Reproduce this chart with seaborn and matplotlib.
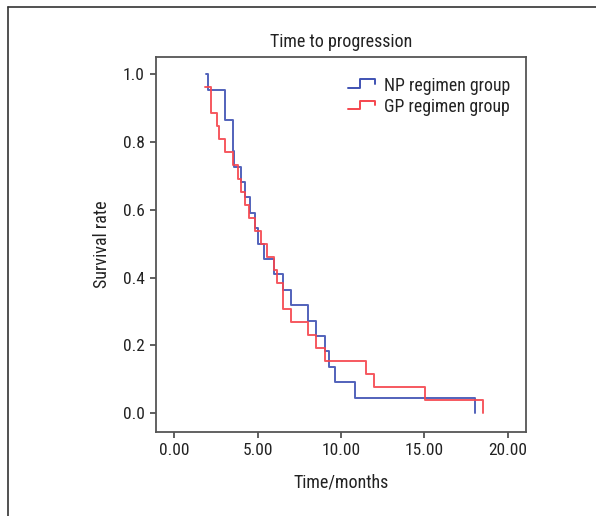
import matplotlib
matplotlib.use("Agg")
import matplotlib.pyplot as plt
import seaborn as sns
import pandas as pd
from matplotlib.lines import Line2D
from matplotlib.legend_handler import HandlerLine2D
from matplotlib import font_manager

groups = ["NP regimen group", "GP regimen group"]
np_times = [1.92, 2.05, 3.03, 3.53, 3.60, 4.01, 4.25, 4.55, 4.87, 5.05, 5.41, 5.99,
            6.51, 7.00, 8.02, 8.50, 9.02, 9.30, 9.62, 10.84, 18.00]
np_surv = [1.0, 0.9545, 0.8636, 0.7727, 0.7273, 0.6818, 0.6364, 0.5909, 0.5455, 0.5,
           0.4545, 0.4091, 0.3636, 0.3182, 0.2727, 0.2273, 0.1818, 0.1364, 0.0909,
           0.0455, 0.0]
gp_times = [1.85, 2.19, 2.55, 2.71, 3.03, 3.53, 3.81, 3.99, 4.25, 4.51, 4.85, 5.19,
            5.55, 5.99, 6.19, 6.51, 7.00, 8.02, 8.50, 9.02, 11.48, 12.00, 15.01, 18.50]
gp_surv = [0.9615, 0.8846, 0.8462, 0.8077, 0.7692, 0.7308, 0.6923, 0.6538, 0.6154,
           0.5769, 0.5385, 0.5, 0.4615, 0.4231, 0.3846, 0.3077, 0.2692, 0.2308,
           0.1923, 0.1538, 0.1154, 0.0769, 0.0385, 0.0]
x_ticks = [0, 5, 10, 15, 20]
x_tick_labels = ["0.00", "5.00", "10.00", "15.00", "20.00"]
y_ticks = [0.0, 0.2, 0.4, 0.6, 0.8, 1.0]
y_tick_labels = ["0.0", "0.2", "0.4", "0.6", "0.8", "1.0"]
colors = ["#3f52b3", "#f5464e"]

df = pd.concat([
    pd.DataFrame({"time": np_times, "surv": np_surv, "group": groups[0]}),
    pd.DataFrame({"time": gp_times, "surv": gp_surv, "group": groups[1]}),
])

sns.set_style("white")

# pick a narrow font if one is installed
stretch = "normal"
names = {}
for f in font_manager.fontManager.ttflist:
    names.setdefault(f.name, []).append(f)
for cand in ["Liberation Sans Narrow", "Roboto Condensed", "Open Sans Condensed",
             "Noto Sans Condensed", "DejaVu Sans Condensed"]:
    if cand in names:
        family = cand
        break
else:
    family = None
    for f in font_manager.fontManager.ttflist:
        if ("Narrow" in f.fname or "Condensed" in f.fname) and "Bold" not in f.fname \
                and "Oblique" not in f.fname and "Italic" not in f.fname:
            family = f.name
            stretch = f.stretch
            break
    if family is None:
        family = "Liberation Sans"

plt.rcParams["font.family"] = [family, "DejaVu Sans"]
plt.rcParams["font.stretch"] = stretch if isinstance(stretch, str) else "condensed"
plt.rcParams["font.size"] = 12.5

fig = plt.figure(figsize=(5.96, 5.16), dpi=100)
W, H = 596, 516
ax = fig.add_axes([156 / W, 1 - 432 / H, (526 - 156) / W, (432 - 57) / H])

sns.lineplot(data=df, x="time", y="surv", hue="group", palette=colors,
             drawstyle="steps-post", estimator=None, sort=False, ax=ax,
             legend=False, linewidth=1.4, alpha=0.9)

ax.set_xlim(-1.08, 21.08)
ax.set_ylim(-0.056, 1.051)
ax.set_xticks(x_ticks)
ax.set_xticklabels(x_tick_labels)
ax.set_yticks(y_ticks)
ax.set_yticklabels(y_tick_labels)
ax.tick_params(axis="both", direction="out", length=4, width=1.2, color="#444444",
               labelsize=12.5, labelcolor="#222222", bottom=True, left=True, pad=4)
for s in ax.spines.values():
    s.set_color("#555555")
    s.set_linewidth(1.3)
ax.set_xlabel("Time/months", fontsize=13, color="#222222", labelpad=11)
ax.set_ylabel("Survival rate", fontsize=13, color="#222222", labelpad=9)
ax.set_title("Time to progression", fontsize=13, color="#222222", pad=7)


class StepHandler(HandlerLine2D):
    def create_artists(self, legend, orig_handle, xdescent, ydescent, width,
                       height, fontsize, trans):
        x0 = -xdescent
        y0 = -ydescent
        xs = [x0, x0 + 0.45 * width, x0 + 0.45 * width, x0 + width, x0 + width]
        ys = [y0 + 0.2 * height, y0 + 0.2 * height, y0 + 1.0 * height,
              y0 + 1.0 * height, y0 + 0.55 * height]
        ln = Line2D(xs, ys, color=orig_handle.get_color(), linewidth=1.4)
        ln.set_transform(trans)
        return [ln]


handles = [Line2D([], [], color=c) for c in colors]
leg = ax.legend(handles, groups, loc="upper right", bbox_to_anchor=(1.0, 0.99),
                frameon=False, handler_map={Line2D: StepHandler()},
                handlelength=1.5, handleheight=0.55, handletextpad=0.5,
                labelspacing=0.2, fontsize=12.8)
for t in leg.get_texts():
    t.set_color("#222222")

# outer frame lines (top and left)
fig.add_artist(Line2D([8 / W, 8 / W], [0, 1 - 7 / H], transform=fig.transFigure,
                      color="#333333", linewidth=1.2))
fig.add_artist(Line2D([8 / W, 1], [1 - 7 / H, 1 - 7 / H], transform=fig.transFigure,
                      color="#333333", linewidth=1.2))

fig.savefig("out.png", dpi=100)
